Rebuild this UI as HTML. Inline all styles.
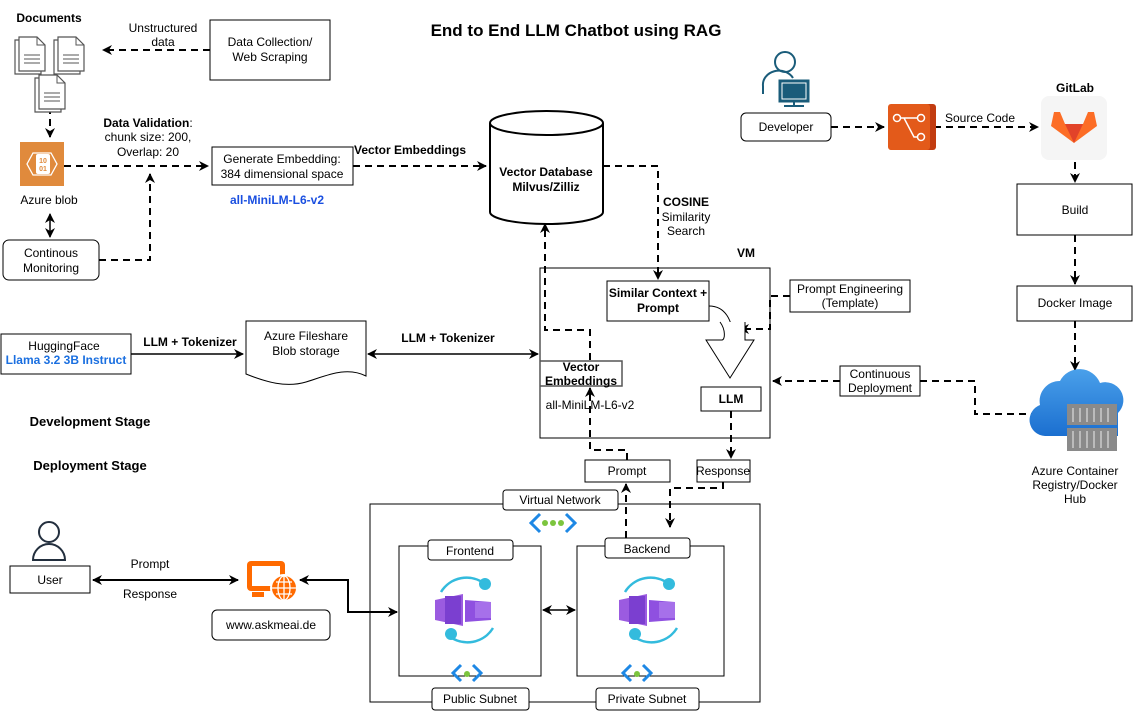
<!DOCTYPE html>
<html><head><meta charset="utf-8"><style>
html,body{margin:0;padding:0;background:#fff}
svg{display:block;font-family:"Liberation Sans",Arial,sans-serif}
</style></head><body>
<svg width="1134" height="711" viewBox="0 0 1134 711" xmlns="http://www.w3.org/2000/svg">
<defs>
<marker id="a" markerWidth="10" markerHeight="10" refX="9" refY="5" orient="auto" markerUnits="userSpaceOnUse"><path d="M0,0 L10,5 L0,10 L3,5 Z" fill="#000"/></marker>
<marker id="s" markerWidth="10" markerHeight="10" refX="1" refY="5" orient="auto" markerUnits="userSpaceOnUse"><path d="M10,0 L0,5 L10,10 L7,5 Z" fill="#000"/></marker>
<linearGradient id="cl" x1="0" y1="0" x2="0" y2="1"><stop offset="0" stop-color="#4aa0ea"/><stop offset="1" stop-color="#1b6fd0"/></linearGradient>
<g id="doc"><path d="M0,3 h18 l8,8 v26 h-26z" fill="#fff" stroke="#555" stroke-width="1.2"/><path d="M4,0 h18 l8,8 v26 h-26z" fill="#fff" stroke="#555" stroke-width="1.2"/><path d="M22,0 v8 h8" fill="none" stroke="#555"/><path d="M9,18h16M9,22h16M9,26h16" stroke="#555"/></g>
<g id="cont"><path d="M-26,-18 a30,30 0 0 1 44,-8" fill="none" stroke="#33bbdd" stroke-width="2.5"/><path d="M26,18 a30,30 0 0 1 -44,8" fill="none" stroke="#33bbdd" stroke-width="2.5"/><circle cx="18" cy="-26" r="6" fill="#33bbdd"/><circle cx="-16" cy="24" r="6" fill="#33bbdd"/><path d="M-32,-10 l28,-6 v32 l-28,-6z" fill="#9b5be0"/><rect x="-22" y="-14" width="16" height="28" fill="#7b3fd0"/><path d="M-2,-10 l26,2 v18 l-26,2z" fill="#8f50e0"/><rect x="8" y="-8" width="16" height="16" fill="#a670ea"/></g>
<g id="sub"><path d="M-6,-9 l-8,8 l8,8" fill="none" stroke="#1e88e5" stroke-width="3"/><path d="M6,-9 l8,8 l-8,8" fill="none" stroke="#1e88e5" stroke-width="3"/></g>
</defs>
<g fill="none" stroke="#000" stroke-width="2" stroke-dasharray="7,5">
<path d="M210,50 H103" marker-end="url(#a)"/>
<path d="M64,166 H208" marker-end="url(#a)"/>
<path d="M99,260 H150 V174" marker-end="url(#a)"/>
<path d="M353,166 H486" marker-end="url(#a)"/>
<path d="M603,166 H658 V279" marker-end="url(#a)"/>
<path d="M590,360 V330 H545 V224" marker-end="url(#a)"/>
<path d="M627,460 V450 H590 V388" marker-end="url(#a)"/>
<path d="M790,296 H770 V329 H740" marker-end="url(#a)"/>
<path d="M731,411 V458" marker-end="url(#a)"/>
<path d="M723,482 V488 H670 V527" marker-end="url(#a)"/>
<path d="M626,538 V484" marker-end="url(#a)"/>
<path d="M840,381 H773" marker-end="url(#a)"/>
<path d="M920,381 H975 V414 H1032"/>
<path d="M831,127 H884" marker-end="url(#a)"/>
<path d="M934,127 H1038" marker-end="url(#a)"/>
<path d="M1075,162 V182" marker-end="url(#a)"/>
<path d="M1075,235 V284" marker-end="url(#a)"/>
<path d="M1075,321 V370" marker-end="url(#a)"/>
<path d="M50,107 V137" marker-end="url(#a)"/>
</g>
<g fill="none" stroke="#000" stroke-width="1.5">
<path d="M50,214 V237" marker-start="url(#s)" marker-end="url(#a)"/>
<path d="M131,354 H243" marker-end="url(#a)"/>
<path d="M368,354 H538" marker-start="url(#s)" marker-end="url(#a)"/>
<path d="M93,580 H238" marker-start="url(#s)" marker-end="url(#a)" stroke-width="2"/>
<path d="M397,612 H348 V580 H300" marker-end="url(#a)" stroke-width="2"/>
<path d="M348,612 H397" marker-end="url(#a)" stroke-width="2"/>
<path d="M543,610 H575" marker-start="url(#s)" marker-end="url(#a)"/>
</g>
<text x="576" y="36" text-anchor="middle" font-size="17" font-weight="bold">End to End LLM Chatbot using RAG</text>
<text x="49" y="22" text-anchor="middle" font-size="12" font-weight="bold">Documents</text>
<use href="#doc" x="15" y="37"/><use href="#doc" x="54" y="37"/><use href="#doc" x="35" y="75"/>
<text x="163" y="32" text-anchor="middle" font-size="12">Unstructured</text>
<text x="163" y="46" text-anchor="middle" font-size="12">data</text>
<g font-size="12" text-anchor="middle">
<rect x="210" y="20" width="120" height="60" fill="#fff" stroke="#000"/>
<text x="270" y="46">Data Collection/</text><text x="270" y="61">Web Scraping</text>
<rect x="20" y="142" width="44" height="44" fill="#e08a3c"/>
<path d="M33,164 l6,-11 h18 l6,11 l-6,11 h-18z" fill="none" stroke="#fff" stroke-width="1.3" transform="translate(-6,0)"/>
<rect x="36" y="154" width="14" height="20" rx="2" fill="#fff"/>
<text x="43" y="163" font-size="7" fill="#e08a3c" font-weight="bold">10</text><text x="43" y="171" font-size="7" fill="#e08a3c" font-weight="bold">01</text>
<text x="49" y="204">Azure blob</text>
<rect x="3" y="240" width="96" height="40" rx="6" fill="#fff" stroke="#000"/>
<text x="51" y="257">Continous</text><text x="51" y="272">Monitoring</text>
<text x="148" y="127"><tspan font-weight="bold">Data Validation</tspan>:</text>
<text x="148" y="141">chunk size: 200,</text><text x="148" y="156">Overlap: 20</text>
<rect x="212" y="147" width="141" height="38" fill="#fff" stroke="#000"/>
<text x="282" y="163">Generate Embedding:</text><text x="282" y="178">384 dimensional space</text>
<text x="277" y="204" fill="#1a4fe0" font-weight="bold">all-MiniLM-L6-v2</text>
<text x="410" y="154" font-weight="bold">Vector Embeddings</text>
<path d="M490,123 V212 A56.5,12 0 0 0 603,212 V123" fill="#fff" stroke="#000" stroke-width="2"/>
<ellipse cx="546.5" cy="123" rx="56.5" ry="12" fill="#fff" stroke="#000" stroke-width="2"/>
<text x="546" y="176" font-weight="bold">Vector Database</text><text x="546" y="191" font-weight="bold">Milvus/Zilliz</text>
<text x="686" y="206" font-weight="bold">COSINE</text><text x="686" y="221">Similarity</text><text x="686" y="235">Search</text>
<text x="746" y="257" font-weight="bold">VM</text>
<rect x="540" y="268" width="230" height="170" fill="none" stroke="#000"/>
<rect x="607" y="281" width="102" height="40" fill="#fff" stroke="#000"/>
<text x="658" y="297" font-weight="bold">Similar Context +</text><text x="658" y="312" font-weight="bold">Prompt</text>
<path d="M709,306 C725,306 733,320 733,340" fill="none" stroke="#000"/>
<path d="M720,322 C726,330 725,340 722,340 H706 L730,378 L754,340 H745 V322" fill="#fff" stroke="#000"/>
<rect x="540" y="361" width="82" height="25" fill="#fff" stroke="#555" stroke-width="1.5"/>
<text x="581" y="371" font-weight="bold">Vector</text><text x="581" y="385" font-weight="bold">Embeddings</text>
<text x="590" y="409">all-MiniLM-L6-v2</text>
<rect x="701" y="387" width="60" height="24" fill="#fff" stroke="#000"/>
<text x="731" y="403" font-weight="bold">LLM</text>
<rect x="790" y="280" width="120" height="32" fill="#fff" stroke="#000"/>
<text x="850" y="293">Prompt Engineering</text><text x="850" y="307">(Template)</text>
<rect x="585" y="460" width="85" height="22" fill="#fff" stroke="#000"/><text x="627" y="475">Prompt</text>
<rect x="697" y="460" width="53" height="22" fill="#fff" stroke="#000"/><text x="723" y="475">Response</text>
<rect x="840" y="366" width="80" height="30" fill="#fff" stroke="#000"/>
<text x="880" y="378">Continuous</text><text x="880" y="392">Deployment</text>
<circle cx="785" cy="62" r="10" fill="#fff" stroke="#1a5c7a" stroke-width="2"/>
<path d="M763,94 v-8 a16,14 0 0 1 30,-8" fill="none" stroke="#1a5c7a" stroke-width="2"/>
<rect x="779" y="80" width="30" height="22" fill="#1a5c7a" stroke="#1a5c7a"/><rect x="782" y="83" width="24" height="16" fill="#1a5c7a" stroke="#fff" stroke-width="1"/>
<path d="M794,102 v3 M784,106 h20" stroke="#1a5c7a" stroke-width="2"/>
<rect x="741" y="113" width="90" height="28" rx="5" fill="#fff" stroke="#000"/><text x="786" y="131">Developer</text>
<rect x="894" y="104" width="42" height="46" rx="3" fill="#c23c10"/>
<rect x="888" y="104" width="42" height="46" rx="3" fill="#e35a1a"/>
<circle cx="897" cy="118" r="3.5" fill="none" stroke="#fff" stroke-width="1.5"/><circle cx="921" cy="118" r="3.5" fill="none" stroke="#fff" stroke-width="1.5"/><circle cx="921" cy="137" r="3.5" fill="none" stroke="#fff" stroke-width="1.5"/>
<path d="M900,118 h18 M904,118 l10,19 h4" fill="none" stroke="#fff" stroke-width="1.5"/>
<text x="980" y="122">Source Code</text>
<text x="1075" y="92" font-weight="bold">GitLab</text>
<rect x="1041" y="96" width="66" height="64" rx="8" fill="#f5f5f5"/>
<path d="M1054,112 l6,0 l5,12 h18 l5,-12 h6 l3,14 l-23,17 l-23,-17z" fill="#fc6d26"/>
<path d="M1065,124 h18 l-9,19z" fill="#e24329"/>
<rect x="1017" y="184" width="115" height="51" fill="#fff" stroke="#000"/><text x="1075" y="214">Build</text>
<rect x="1017" y="286" width="115" height="35" fill="#fff" stroke="#000"/><text x="1075" y="307">Docker Image</text>
<path d="M1045,436 a16,16 0 0 1 -5,-31 a20,20 0 0 1 20,-24 a22,22 0 0 1 40,2 a18,18 0 0 1 18,30 v23z" fill="url(#cl)"/>
<rect x="1067" y="404" width="50" height="21" fill="#8a8a8a"/><rect x="1067" y="428" width="50" height="23" fill="#8a8a8a"/>
<path d="M1073,408v14M1080,408v14M1087,408v14M1094,408v14M1101,408v14M1108,408v14M1073,431v17M1080,431v17M1087,431v17M1094,431v17M1101,431v17M1108,431v17" stroke="#bbb" stroke-width="2"/>
<text x="1075" y="475">Azure Container</text><text x="1075" y="489">Registry/Docker</text><text x="1075" y="503">Hub</text>
<rect x="1" y="334" width="130" height="40" fill="#fff" stroke="#000"/>
<text x="64" y="350">HuggingFace</text><text x="66" y="364" fill="#1a6fe0" font-weight="bold">Llama 3.2 3B Instruct</text>
<text x="190" y="346" font-weight="bold">LLM + Tokenizer</text>
<path d="M246,321 H366 V376 C346,366 326,376 306,382 C286,388 266,382 246,374Z" fill="#fff" stroke="#000"/>
<text x="306" y="340">Azure Fileshare</text><text x="306" y="355">Blob storage</text>
<text x="448" y="342" font-weight="bold">LLM + Tokenizer</text>
<text x="90" y="426" font-size="13" font-weight="bold">Development Stage</text>
<text x="90" y="470" font-size="13" font-weight="bold">Deployment Stage</text>
<circle cx="49" cy="532" r="10" fill="#fff" stroke="#232f3e" stroke-width="2"/>
<path d="M33,560 a16,16 0 0 1 32,0z" fill="#fff" stroke="#232f3e" stroke-width="2"/>
<rect x="10" y="566" width="80" height="27" fill="#fff" stroke="#000"/><text x="50" y="584">User</text>
<text x="150" y="568">Prompt</text><text x="150" y="598">Response</text>
<rect x="247" y="561" width="38" height="30" rx="4" fill="#ff6a00"/><rect x="252" y="566" width="28" height="20" fill="#fff"/>
<path d="M252,592 h12 v5 h-12z" fill="#ff6a00"/>
<circle cx="284" cy="588" r="13" fill="#ff6a00" stroke="#fff" stroke-width="2"/>
<path d="M272,588h24M284,576v24M276,582h16M276,594h16" stroke="#fff" stroke-width="1.3"/><ellipse cx="284" cy="588" rx="6" ry="12" fill="none" stroke="#fff" stroke-width="1.3"/>
<rect x="212" y="610" width="118" height="30" rx="5" fill="#fff" stroke="#000"/><text x="271" y="629">www.askmeai.de</text>
<rect x="370" y="504" width="390" height="198" fill="none" stroke="#000"/>
<rect x="503" y="490" width="115" height="20" rx="3" fill="#fff" stroke="#000"/><text x="560" y="504">Virtual Network</text>
<path d="M540,514 l-9,9 l9,9" fill="none" stroke="#1e88e5" stroke-width="3"/>
<path d="M566,514 l9,9 l-9,9" fill="none" stroke="#1e88e5" stroke-width="3"/>
<circle cx="545" cy="523" r="3" fill="#7cc53e"/><circle cx="553" cy="523" r="3" fill="#7cc53e"/><circle cx="561" cy="523" r="3" fill="#7cc53e"/>
<rect x="399" y="546" width="142" height="130" fill="#fff" stroke="#000"/>
<rect x="428" y="540" width="85" height="20" rx="3" fill="#fff" stroke="#000"/><text x="470" y="555">Frontend</text>
<rect x="577" y="546" width="147" height="130" fill="#fff" stroke="#000"/>
<rect x="605" y="538" width="85" height="20" rx="3" fill="#fff" stroke="#000"/><text x="647" y="553">Backend</text>
<use href="#cont" x="467" y="610"/><use href="#cont" x="651" y="610"/>
<use href="#sub" x="467" y="674"/><circle cx="467" cy="674" r="3" fill="#7cc53e"/>
<use href="#sub" x="637" y="674"/><circle cx="637" cy="674" r="3" fill="#7cc53e"/>
<rect x="432" y="688" width="97" height="22" rx="3" fill="#fff" stroke="#000"/><text x="480" y="703">Public Subnet</text>
<rect x="596" y="688" width="103" height="22" rx="3" fill="#fff" stroke="#000"/><text x="647" y="703">Private Subnet</text>
</g>
</svg>
</body></html>
